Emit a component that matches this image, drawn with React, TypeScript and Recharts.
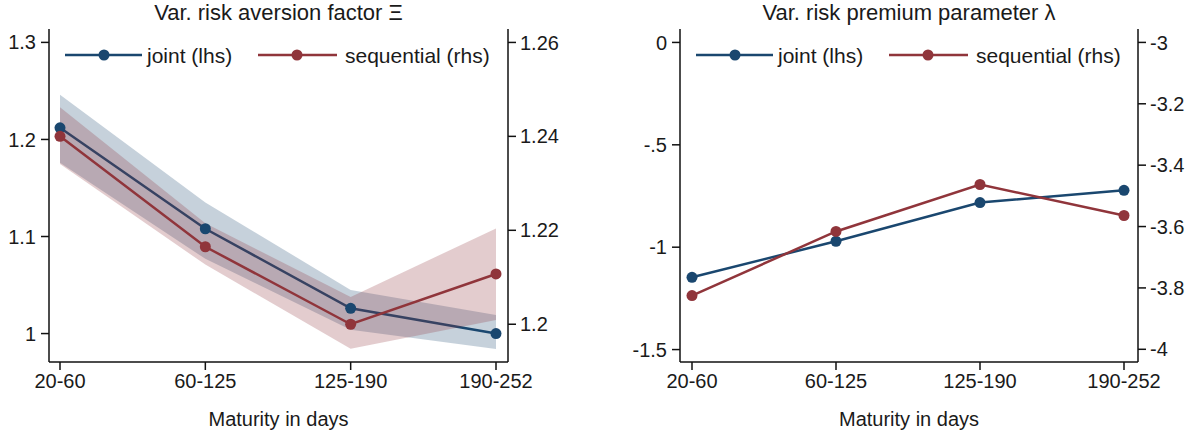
import React from 'react';
import { ComposedChart, Line, Area, XAxis, YAxis, Legend, Label } from 'recharts';

const NAVY = '#1a476f';
const MAROON = '#90353b';
const INK = '#1a1a1a';
const FONT = '"Liberation Sans", Arial, sans-serif';

// maturity buckets
const CATEGORIES = ['20-60', '60-125', '125-190', '190-252'];

// left panel: Xi, joint on lhs, sequential on rhs, with bands
const XI_JOINT = [1.212, 1.108, 1.026, 1.0];
const XI_JOINT_LO = [1.176, 1.077, 1.004, 0.984];
const XI_JOINT_HI = [1.246, 1.135, 1.045, 1.019];
const XI_SEQ = [1.24, 1.2165, 1.2, 1.2107];
const XI_SEQ_LO = [1.2341, 1.2127, 1.1948, 1.2009];
const XI_SEQ_HI = [1.2462, 1.2215, 1.2058, 1.2204];

// right panel: lambda
const LAMBDA_JOINT = [-1.147, -0.971, -0.782, -0.722];
const LAMBDA_SEQ = [-3.825, -3.616, -3.463, -3.564];

const XI_L_TICKS = [1, 1.1, 1.2, 1.3];
const XI_L_LABELS = ['1', '1.1', '1.2', '1.3'];
const XI_R_TICKS = [1.2, 1.22, 1.24, 1.26];
const XI_R_LABELS = ['1.2', '1.22', '1.24', '1.26'];
const LAM_L_TICKS = [-1.5, -1, -0.5, 0];
const LAM_L_LABELS = ['-1.5', '-1', '-.5', '0'];
const LAM_R_TICKS = [-4, -3.8, -3.6, -3.4, -3.2, -3];
const LAM_R_LABELS = ['-4', '-3.8', '-3.6', '-3.4', '-3.2', '-3'];

const xiData = CATEGORIES.map((cat, i) => ({
  cat,
  joint: XI_JOINT[i],
  seq: XI_SEQ[i],
  jointBand: [XI_JOINT_LO[i], XI_JOINT_HI[i]],
  seqBand: [XI_SEQ_LO[i], XI_SEQ_HI[i]],
}));

const lambdaData = CATEGORIES.map((cat, i) => ({
  cat,
  joint: LAMBDA_JOINT[i],
  seq: LAMBDA_SEQ[i],
}));

const tickStyle = { fontSize: 20, fill: INK, fontFamily: FONT };

function LegendBox(props: any) {
  const items = (props.payload || []).filter((p: any) => p.type !== 'none');
  const slots = [
    { x1: 16, x2: 93, dot: 55, tx: 98 },
    { x1: 209, x2: 288, dot: 248, tx: 296 },
  ];
  return (
    <svg width={450} height={30}>
      {items.map((it: any, i: number) => {
        const s = slots[i];
        if (!s) return null;
        return (
          <g key={i}>
            <line x1={s.x1} x2={s.x2} y1={15} y2={15} stroke={it.color} strokeWidth={2.5} />
            <circle cx={s.dot} cy={15} r={5.5} fill={it.color} />
            <text x={s.tx} y={15} dominantBaseline="central" fontSize={21} fill={INK} fontFamily={FONT}>
              {it.value}
            </text>
          </g>
        );
      })}
    </svg>
  );
}

function Panel(props: any) {
  const { x, width, leftW, rightW, pad, title, data, lDomain, lTicks, lLabels, rDomain, rTicks, rLabels, bands } = props;
  const plotLeft = leftW;
  const plotWidth = width - leftW - rightW;
  const axisLine = { stroke: '#111', strokeWidth: 1.5 };
  return (
    <div style={{ position: 'absolute', left: x, top: 0, width, height: 432 }}>
      <div
        style={{
          position: 'absolute',
          left: plotLeft,
          top: 0,
          width: plotWidth,
          textAlign: 'center',
          fontSize: 22,
          lineHeight: '25px',
          color: INK,
          whiteSpace: 'nowrap',
        }}
      >
        {title}
      </div>
      <ComposedChart width={width} height={432} data={data} margin={{ top: 29, right: 0, bottom: 0, left: 0 }}>
        <XAxis
          dataKey="cat"
          interval={0}
          padding={pad}
          height={70}
          tickSize={8}
          tickMargin={4}
          tick={tickStyle}
          axisLine={axisLine}
          tickLine={axisLine}
        >
          <Label value="Maturity in days" position="insideBottom" offset={6} style={{ fontSize: 20, fill: INK, fontFamily: FONT }} />
        </XAxis>
        <XAxis xAxisId="top" orientation="top" dataKey="cat" height={0} tick={false} tickLine={false} axisLine={axisLine} padding={pad} />
        <YAxis
          yAxisId="l"
          type="number"
          domain={lDomain}
          ticks={lTicks}
          allowDataOverflow
          width={leftW}
          tickSize={8}
          tickMargin={5}
          tick={tickStyle}
          axisLine={axisLine}
          tickLine={axisLine}
          tickFormatter={(v: number) => lLabels[lTicks.indexOf(v)]}
        />
        <YAxis
          yAxisId="r"
          orientation="right"
          type="number"
          domain={rDomain}
          ticks={rTicks}
          allowDataOverflow
          width={rightW}
          tickSize={8}
          tickMargin={4}
          tick={tickStyle}
          axisLine={axisLine}
          tickLine={axisLine}
          tickFormatter={(v: number) => rLabels[rTicks.indexOf(v)]}
        />
        <Legend
          layout="horizontal"
          verticalAlign="middle"
          align="center"
          content={<LegendBox />}
          wrapperStyle={{ left: plotLeft, top: 40, width: 450 }}
        />
        {bands && (
          <Area
            yAxisId="l"
            dataKey="jointBand"
            type="linear"
            stroke="none"
            fill={NAVY}
            fillOpacity={0.25}
            legendType="none"
            dot={false}
            activeDot={false}
            isAnimationActive={false}
            zIndex={100}
          />
        )}
        <Line
          yAxisId="l"
          dataKey="joint"
          name="joint (lhs)"
          type="linear"
          stroke={NAVY}
          strokeWidth={2.5}
          dot={{ r: 5.5, fill: NAVY, stroke: NAVY, strokeWidth: 0 }}
          activeDot={false}
          isAnimationActive={false}
          zIndex={110}
        />
        {bands && (
          <Area
            yAxisId="r"
            dataKey="seqBand"
            type="linear"
            stroke="none"
            fill={MAROON}
            fillOpacity={0.25}
            legendType="none"
            dot={false}
            activeDot={false}
            isAnimationActive={false}
            zIndex={120}
          />
        )}
        <Line
          yAxisId="r"
          dataKey="seq"
          name="sequential (rhs)"
          type="linear"
          stroke={MAROON}
          strokeWidth={2.5}
          dot={{ r: 5.5, fill: MAROON, stroke: MAROON, strokeWidth: 0 }}
          activeDot={false}
          isAnimationActive={false}
          zIndex={130}
        />
      </ComposedChart>
    </div>
  );
}

export default function App() {
  return (
    <div
      style={{
        position: 'absolute',
        left: 0,
        top: 0,
        width: 1195,
        height: 432,
        background: '#fff',
        fontFamily: FONT,
      }}
    >
      <Panel
        x={0}
        width={600}
        leftW={49}
        rightW={92}
        pad={{ left: 11, right: 12 }}
        title="Var. risk aversion factor Ξ"
        data={xiData}
        lDomain={[0.9707, 1.3138]}
        lTicks={XI_L_TICKS}
        lLabels={XI_L_LABELS}
        rDomain={[1.19196, 1.26286]}
        rTicks={XI_R_TICKS}
        rLabels={XI_R_LABELS}
        bands
      />
      <Panel
        x={600}
        width={595}
        leftW={80}
        rightW={57}
        pad={{ left: 12, right: 14 }}
        title="Var. risk premium parameter λ"
        data={lambdaData}
        lDomain={[-1.5607, 0.0656]}
        lTicks={LAM_L_TICKS}
        lLabels={LAM_L_LABELS}
        rDomain={[-4.0414, -2.9563]}
        rTicks={LAM_R_TICKS}
        rLabels={LAM_R_LABELS}
        bands={false}
      />
    </div>
  );
}
